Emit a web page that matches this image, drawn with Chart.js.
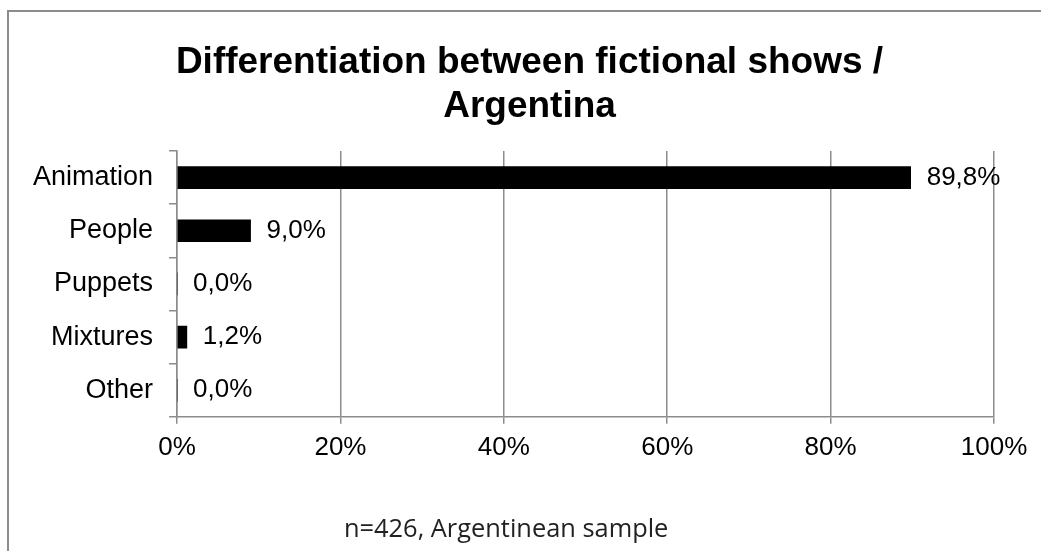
<!DOCTYPE html>
<html>
<head>
<meta charset="utf-8">
<script src="https://cdn.jsdelivr.net/npm/chart.js@4"></script>
<style>
  html, body { margin: 0; padding: 0; background: #fff; }
  #wrap { position: relative; width: 1041px; height: 551px; overflow: hidden; }
  #frame { position: absolute; left: 7px; top: 10px; width: 1100px; height: 600px;
           border-top: 2px solid #8c8c8c; border-left: 2px solid #8c8c8c; }
  #note { position: absolute; left: 344px; top: 510px; font-family: "Open Sans", sans-serif;
          font-size: 25.4px; color: #222; white-space: nowrap; }
  canvas { position: absolute; left: 0; top: 0; }
</style>
</head>
<body>
<div id="wrap">
  <div id="frame"></div>
  <canvas id="chart" width="1041" height="551"></canvas>
  <div id="note">n=426, Argentinean sample</div>
</div>
<script>
// Datos
const categorias = ["Animation", "People", "Puppets", "Mixtures", "Other"];
const valores = [89.8, 9.0, 0.0, 1.2, 0.0];
const ticksX = [0, 20, 40, 60, 80, 100];

const gris = "#8c8c8c";
const fuente = "'Liberation Sans', Arial, sans-serif";

// Etiquetas de valor junto a cada barra
const etiquetas = {
  id: "etiquetas",
  afterDatasetsDraw(chart) {
    const ctx = chart.ctx;
    const meta = chart.getDatasetMeta(0);
    ctx.save();
    ctx.font = "26px " + fuente;
    ctx.fillStyle = "#000";
    ctx.textAlign = "left";
    ctx.textBaseline = "middle";
    meta.data.forEach((bar, i) => {
      const txt = valores[i].toFixed(1).replace(".", ",") + "%";
      ctx.fillText(txt, bar.x + 16, bar.y);
    });
    ctx.restore();
  }
};

// El título del original está algo corrido a la derecha
const moverTitulo = {
  id: "moverTitulo",
  afterLayout(chart) {
    const t = chart.titleBlock;
    if (t) { t.left += 24; t.right += 24; }
  }
};

new Chart(document.getElementById("chart"), {
  type: "bar",
  data: {
    labels: categorias,
    datasets: [{
      data: valores,
      backgroundColor: "#000",
      borderWidth: 0,
      barThickness: 22
    }]
  },
  options: {
    indexAxis: "y",
    responsive: false,
    animation: false,
    layout: { padding: { left: 17, right: 47, top: 0, bottom: 80 } },
    plugins: {
      legend: { display: false },
      tooltip: { enabled: false },
      title: {
        display: true,
        text: ["Differentiation between fictional shows /", "Argentina"],
        color: "#000",
        font: { family: fuente, size: 37, weight: "bold", lineHeight: 1.19 },
        padding: { top: 41, bottom: 22 }
      }
    },
    scales: {
      x: {
        min: 0,
        max: 100,
        afterBuildTicks: (axis) => { axis.ticks = ticksX.map(v => ({ value: v })); },
        grid: { color: gris, lineWidth: 1.5, tickLength: 7, drawTicks: true },
        border: { color: gris, width: 1.5 },
        ticks: {
          color: "#000",
          padding: 8,
          font: { family: fuente, size: 26 },
          callback: (v) => v + "%"
        }
      },
      y: {
        grid: { drawOnChartArea: false, color: gris, lineWidth: 1.5, tickLength: 8, offset: true },
        border: { color: gris, width: 1.5 },
        ticks: {
          color: "#000",
          padding: 16,
          font: { family: fuente, size: 27 }
        }
      }
    }
  },
  plugins: [etiquetas, moverTitulo]
});
</script>
</body>
</html>
